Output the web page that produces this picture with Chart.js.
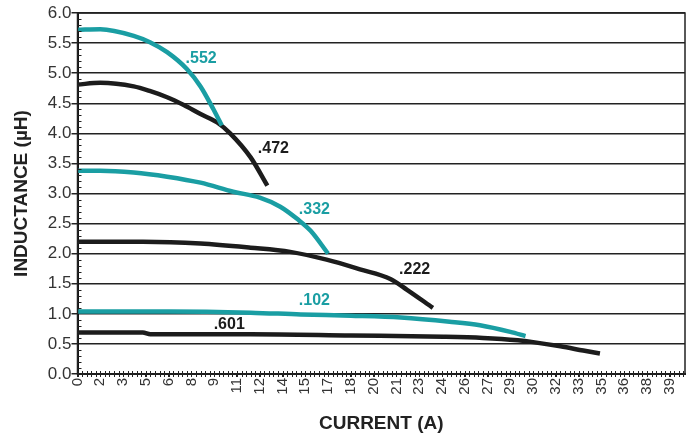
<!DOCTYPE html>
<html>
<head>
<meta charset="utf-8">
<script src="https://cdn.jsdelivr.net/npm/chart.js@4/dist/chart.umd.min.js"></script>
<style>
  html, body { margin: 0; padding: 0; background: #fff; }
  #wrap { width: 696px; height: 437px; position: relative; }
</style>
</head>
<body>
<div id="wrap"><canvas id="inductanceChart"></canvas></div>
<script>
// part numbers, in drawing order
const partNames = ['.552', '.472', '.332', '.222', '.102', '.601'];
const partColors = ['#1a9ea3', '#1c1c1c', '#1a9ea3', '#1c1c1c', '#1a9ea3', '#1c1c1c'];

// current (A) / inductance (uH)
const current552 = [0, 1.5, 3.7, 4.8, 5.9, 7.2, 8.1, 8.95, 9.5];
const induct552  = [5.72, 5.73, 5.62, 5.51, 5.35, 5.07, 4.78, 4.4, 4.13];

const current472 = [0, 1.5, 3.7, 4.8, 5.9, 7.0, 8.1, 9.2, 10.05, 11.4, 12.5];
const induct472  = [4.81, 4.84, 4.78, 4.7, 4.6, 4.47, 4.32, 4.18, 4.0, 3.6, 3.13];

const current332 = [0, 1.5, 3.7, 5.9, 8.1, 10.25, 12.0, 13.35, 14.5, 15.35, 16.5];
const induct332  = [3.38, 3.38, 3.35, 3.28, 3.18, 3.03, 2.93, 2.78, 2.57, 2.38, 2.0];

const current222 = [0, 4.3, 8.1, 11.4, 14.0, 16.4, 18.6, 20.6, 21.7, 23.4];
const induct222  = [2.2, 2.2, 2.17, 2.1, 2.03, 1.9, 1.74, 1.58, 1.4, 1.1];

const current102 = [0, 6.0, 11.4, 14.7, 18.0, 21.3, 24.5, 26.5, 28.5, 29.5];
const induct102  = [1.04, 1.04, 1.02, 0.99, 0.97, 0.94, 0.87, 0.81, 0.7, 0.63];

const current601 = [0, 4.3, 4.8, 11.4, 18.0, 24.1, 26.7, 29.0, 30.0, 31.8, 33.3, 34.4];
const induct601  = [0.69, 0.69, 0.66, 0.66, 0.64, 0.62, 0.6, 0.56, 0.53, 0.46, 0.39, 0.34];

// where each part number is written (in axis units)
const labelCurrent = [8.14, 12.9, 15.6, 22.2, 15.6, 9.99];
const labelInduct  = [5.25, 3.75, 2.73, 1.73, 1.22, 0.82];

const currents = [current552, current472, current332, current222, current102, current601];
const inducts  = [induct552, induct472, induct332, induct222, induct102, induct601];

const FONT = '"Liberation Sans", Arial, sans-serif';

const datasets = partNames.map((name, i) => ({
  label: name,
  data: currents[i].map((x, j) => ({ x: x, y: inducts[i][j] })),
  borderColor: partColors[i],
  borderWidth: 4.5,
  cubicInterpolationMode: 'monotone',
  pointRadius: 0,
  fill: false
}));

const extras = {
  id: 'extras',
  afterDraw(chart) {
    const ctx = chart.ctx;
    const area = chart.chartArea;
    const xs = chart.scales.x;
    const ys = chart.scales.y;
    ctx.save();
    ctx.strokeStyle = '#222';
    ctx.lineWidth = 1.5;
    ctx.strokeRect(area.left, area.top, area.right - area.left, area.bottom - area.top);

    // minor ticks
    ctx.lineWidth = 1;
    ctx.beginPath();
    for (let k = 0; k <= 60; k++) {
      if (k % 5 === 0) continue;
      const py = Math.round(ys.getPixelForValue(k / 10)) + 0.5;
      ctx.moveTo(area.left, py);
      ctx.lineTo(area.left + 4, py);
    }
    for (let k = 0; k * 0.3 <= 40.001; k++) {
      const px = Math.round(xs.getPixelForValue(k * 0.3)) + 0.5;
      ctx.moveTo(px, area.bottom - 3);
      ctx.lineTo(px, area.bottom + 3);
    }
    ctx.stroke();

    // part number labels
    ctx.font = 'bold 16px ' + FONT;
    ctx.textAlign = 'center';
    ctx.textBaseline = 'middle';
    partNames.forEach((name, i) => {
      ctx.fillStyle = partColors[i];
      ctx.fillText(name, xs.getPixelForValue(labelCurrent[i]), ys.getPixelForValue(labelInduct[i]));
    });
    ctx.restore();
  }
};

new Chart(document.getElementById('inductanceChart'), {
  type: 'line',
  data: { datasets: datasets },
  options: {
    responsive: true,
    maintainAspectRatio: false,
    animation: false,
    layout: { padding: { top: 13, right: 11, left: 0, bottom: 0 } },
    plugins: {
      legend: { display: false },
      tooltip: { enabled: false }
    },
    scales: {
      x: {
        type: 'linear',
        min: 0,
        max: 40,
        afterFit: s => { s.height = 63; },
        ticks: {
          stepSize: 1.5,
          includeBounds: false,
          autoSkip: false,
          minRotation: 90,
          maxRotation: 90,
          padding: 1,
          color: '#333',
          font: { family: FONT, size: 15 },
          callback: v => String(Math.round(v))
        },
        grid: { drawOnChartArea: false, drawTicks: true, tickLength: 3, color: '#222' },
        border: { display: true, color: '#111', width: 2 },
        title: {
          display: true,
          text: 'CURRENT (A)',
          color: '#222',
          font: { family: FONT, size: 19, weight: 'bold' },
          padding: { top: 0, bottom: 2 }
        }
      },
      y: {
        min: 0,
        max: 6,
        afterFit: s => { s.width = 77.5; },
        ticks: {
          stepSize: 0.5,
          padding: 0,
          color: '#333',
          font: { family: FONT, size: 17 },
          callback: v => v.toFixed(1)
        },
        grid: { color: '#222', lineWidth: 1.5, tickLength: 6 },
        border: { display: true, color: '#111', width: 2 },
        title: {
          display: true,
          text: 'INDUCTANCE (µH)',
          color: '#222',
          font: { family: FONT, size: 19, weight: 'bold' },
          padding: { top: 10, bottom: 0 }
        }
      }
    }
  },
  plugins: [extras]
});
</script>
</body>
</html>
